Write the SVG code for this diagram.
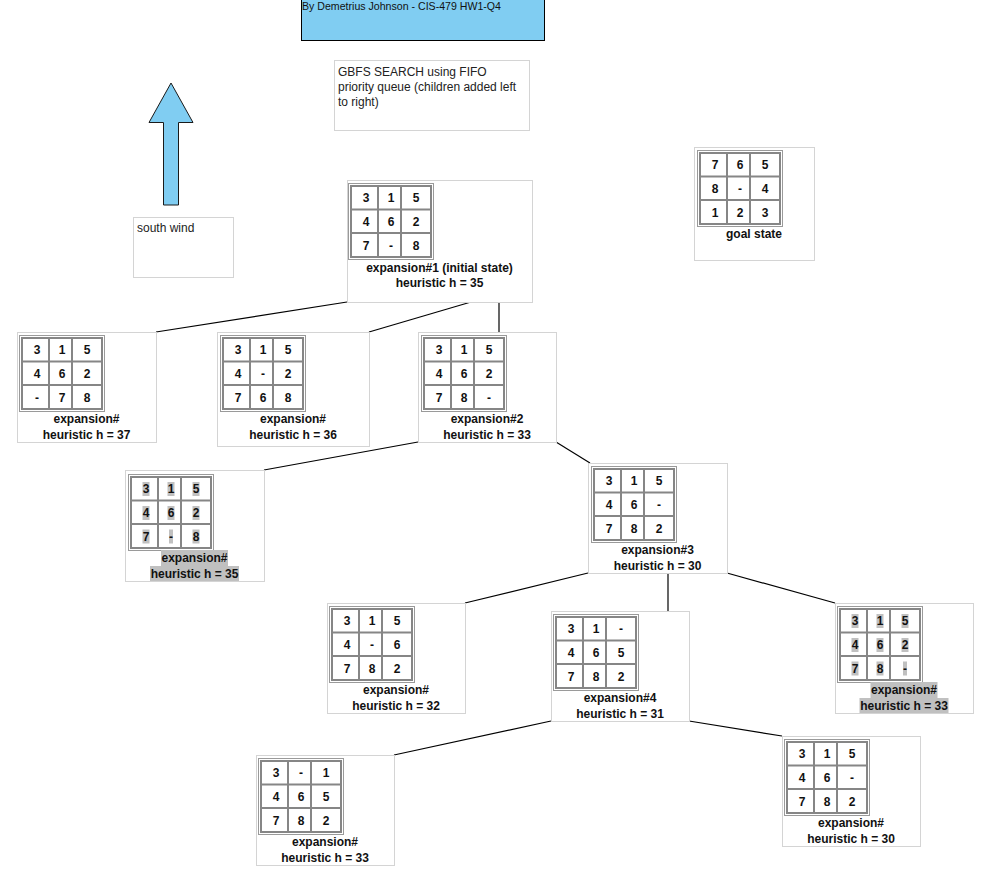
<svg xmlns="http://www.w3.org/2000/svg" xmlns:xlink="http://www.w3.org/1999/xlink" width="1004" height="870" viewBox="0 0 1004 870">
<style>
.box{fill:#fff;stroke:#d4d4d4;stroke-width:1}
.d{font-family:"Liberation Sans",Arial,sans-serif;font-size:12px;font-weight:bold;fill:#111;text-anchor:middle}
.lb{font-family:"Liberation Sans",Arial,sans-serif;font-size:12px;font-weight:bold;fill:#111;text-anchor:middle}
.t{font-family:"Liberation Sans",Arial,sans-serif;font-size:12px;fill:#222}
.hl{fill:#c0c0c0}
.conn line{stroke:#000;stroke-width:1.2}
</style>
<defs>
<g id="grid">
<rect x="0.5" y="0.5" width="85" height="76" fill="#fff" stroke="#9a9a9a" stroke-width="1"/>
<rect x="3" y="3" width="80" height="71" fill="none" stroke="#868686" stroke-width="2"/>
<line x1="30" y1="3" x2="30" y2="74" stroke="#868686" stroke-width="2"/>
<line x1="53" y1="3" x2="53" y2="74" stroke="#868686" stroke-width="2"/>
<line x1="3" y1="26.5" x2="83" y2="26.5" stroke="#868686" stroke-width="2"/>
<line x1="3" y1="50" x2="83" y2="50" stroke="#868686" stroke-width="2"/>
</g>
</defs>
<rect width="1004" height="870" fill="#fff"/>

<g id="title">
<rect x="301.5" y="-5" width="243" height="45.5" fill="#80cdf2" stroke="#000" stroke-width="1"/>
<text x="302" y="10" font-family="Liberation Sans,Arial,sans-serif" font-size="10.6px" fill="#111">By Demetrius Johnson - CIS-479 HW1-Q4</text>
</g>

<g id="note">
<rect x="334.5" y="60.5" width="195" height="70" fill="#fff" stroke="#d4d4d4"/>
<text class="t" x="338" y="76">GBFS SEARCH using FIFO</text>
<text class="t" x="338" y="91">priority queue (children added left</text>
<text class="t" x="338" y="106">to right)</text>
</g>

<g id="wind-arrow">
<polygon points="171,83 193,122.5 178.5,122.5 178.5,205 163.5,205 163.5,122.5 149,122.5" fill="#80cdf2" stroke="#1a1a1a" stroke-width="1"/>
</g>

<g id="south-wind">
<rect x="133.5" y="217.5" width="100" height="60" fill="#fff" stroke="#d4d4d4"/>
<text class="t" x="137" y="232">south wind</text>
</g>

<g class="conn" id="connectors">
<line x1="347" y1="302" x2="156" y2="332"/>
<line x1="471" y1="302" x2="369" y2="332"/>
<line x1="499" y1="302" x2="499" y2="332"/>
<line x1="418" y1="442" x2="264" y2="470"/>
<line x1="556" y1="442" x2="590" y2="463"/>
<line x1="588" y1="573" x2="465" y2="603"/>
<line x1="668" y1="573" x2="668" y2="611"/>
<line x1="727" y1="573" x2="835" y2="603"/>
<line x1="551" y1="721" x2="394" y2="755"/>
<line x1="689" y1="721" x2="782" y2="736"/>
</g>

<g id="goal">
<rect class="box" x="694.5" y="147.5" width="120" height="113"/>
<g transform="translate(697,150)">
<use xlink:href="#grid"/>
<text class="d" x="18" y="19">7</text><text class="d" x="43" y="19">6</text><text class="d" x="68" y="19">5</text>
<text class="d" x="18" y="43">8</text><text class="d" x="43" y="43">-</text><text class="d" x="68" y="43">4</text>
<text class="d" x="18" y="66.5">1</text><text class="d" x="43" y="66.5">2</text><text class="d" x="68" y="66.5">3</text>
<text class="lb" x="57" y="88">goal state</text>
</g>
</g>

<g id="root">
<rect class="box" x="347.5" y="180.5" width="185" height="122"/>
<g transform="translate(348,183)">
<use xlink:href="#grid"/>
<text class="d" x="18" y="19">3</text><text class="d" x="43" y="19">1</text><text class="d" x="68" y="19">5</text>
<text class="d" x="18" y="43">4</text><text class="d" x="43" y="43">6</text><text class="d" x="68" y="43">2</text>
<text class="d" x="18" y="66.5">7</text><text class="d" x="43" y="66.5">-</text><text class="d" x="68" y="66.5">8</text>
<text class="lb" x="91.5" y="89">expansion#1 (initial state)</text>
<text class="lb" x="91.5" y="104">heuristic h = 35</text>
</g>
</g>

<g id="n1">
<rect class="box" x="17.5" y="332.5" width="139" height="110"/>
<g transform="translate(19,335)">
<use xlink:href="#grid"/>
<text class="d" x="18" y="19">3</text><text class="d" x="43" y="19">1</text><text class="d" x="68" y="19">5</text>
<text class="d" x="18" y="43">4</text><text class="d" x="43" y="43">6</text><text class="d" x="68" y="43">2</text>
<text class="d" x="18" y="66.5">-</text><text class="d" x="43" y="66.5">7</text><text class="d" x="68" y="66.5">8</text>
<text class="lb" x="67.5" y="88">expansion#</text>
<text class="lb" x="67.5" y="104">heuristic h = 37</text>
</g>
</g>

<g id="n2">
<rect class="box" x="217.5" y="332.5" width="152" height="114"/>
<g transform="translate(220,335)">
<use xlink:href="#grid"/>
<text class="d" x="18" y="19">3</text><text class="d" x="43" y="19">1</text><text class="d" x="68" y="19">5</text>
<text class="d" x="18" y="43">4</text><text class="d" x="43" y="43">-</text><text class="d" x="68" y="43">2</text>
<text class="d" x="18" y="66.5">7</text><text class="d" x="43" y="66.5">6</text><text class="d" x="68" y="66.5">8</text>
<text class="lb" x="73" y="88">expansion#</text>
<text class="lb" x="73" y="104">heuristic h = 36</text>
</g>
</g>

<g id="n3">
<rect class="box" x="418.5" y="332.5" width="138" height="110"/>
<g transform="translate(421,335)">
<use xlink:href="#grid"/>
<text class="d" x="18" y="19">3</text><text class="d" x="43" y="19">1</text><text class="d" x="68" y="19">5</text>
<text class="d" x="18" y="43">4</text><text class="d" x="43" y="43">6</text><text class="d" x="68" y="43">2</text>
<text class="d" x="18" y="66.5">7</text><text class="d" x="43" y="66.5">8</text><text class="d" x="68" y="66.5">-</text>
<text class="lb" x="66" y="88">expansion#2</text>
<text class="lb" x="66" y="104">heuristic h = 33</text>
</g>
</g>

<g id="n4">
<rect class="box" x="125.5" y="470.5" width="139" height="111"/>
<g transform="translate(128,474)">
<use xlink:href="#grid"/>
<rect class="hl" x="14.5" y="8" width="7" height="14"/><rect class="hl" x="39.5" y="8" width="7" height="14"/><rect class="hl" x="64.5" y="8" width="7" height="14"/>
<rect class="hl" x="14.5" y="32" width="7" height="14"/><rect class="hl" x="39.5" y="32" width="7" height="14"/><rect class="hl" x="64.5" y="32" width="7" height="14"/>
<rect class="hl" x="14.5" y="55.5" width="7" height="14"/><rect class="hl" x="41" y="55.5" width="4" height="14"/><rect class="hl" x="64.5" y="55.5" width="7" height="14"/>
<text class="d" x="18" y="19">3</text><text class="d" x="43" y="19">1</text><text class="d" x="68" y="19">5</text>
<text class="d" x="18" y="43">4</text><text class="d" x="43" y="43">6</text><text class="d" x="68" y="43">2</text>
<text class="d" x="18" y="66.5">7</text><text class="d" x="43" y="66.5">-</text><text class="d" x="68" y="66.5">8</text>
<rect class="hl" x="33" y="76" width="67" height="16"/>
<rect class="hl" x="22" y="92" width="89" height="15"/>
<text class="lb" x="66.5" y="88">expansion#</text>
<text class="lb" x="66.5" y="104">heuristic h = 35</text>
</g>
</g>

<g id="n5">
<rect class="box" x="588.5" y="463.5" width="139" height="110"/>
<g transform="translate(591,466)">
<use xlink:href="#grid"/>
<text class="d" x="18" y="19">3</text><text class="d" x="43" y="19">1</text><text class="d" x="68" y="19">5</text>
<text class="d" x="18" y="43">4</text><text class="d" x="43" y="43">6</text><text class="d" x="68" y="43">-</text>
<text class="d" x="18" y="66.5">7</text><text class="d" x="43" y="66.5">8</text><text class="d" x="68" y="66.5">2</text>
<text class="lb" x="66.5" y="88">expansion#3</text>
<text class="lb" x="66.5" y="104">heuristic h = 30</text>
</g>
</g>

<g id="n6">
<rect class="box" x="327.5" y="603.5" width="138" height="110"/>
<g transform="translate(329,606)">
<use xlink:href="#grid"/>
<text class="d" x="18" y="19">3</text><text class="d" x="43" y="19">1</text><text class="d" x="68" y="19">5</text>
<text class="d" x="18" y="43">4</text><text class="d" x="43" y="43">-</text><text class="d" x="68" y="43">6</text>
<text class="d" x="18" y="66.5">7</text><text class="d" x="43" y="66.5">8</text><text class="d" x="68" y="66.5">2</text>
<text class="lb" x="67" y="88">expansion#</text>
<text class="lb" x="67" y="104">heuristic h = 32</text>
</g>
</g>

<g id="n7">
<rect class="box" x="551.5" y="611.5" width="138" height="110"/>
<g transform="translate(553,614)">
<use xlink:href="#grid"/>
<text class="d" x="18" y="19">3</text><text class="d" x="43" y="19">1</text><text class="d" x="68" y="19">-</text>
<text class="d" x="18" y="43">4</text><text class="d" x="43" y="43">6</text><text class="d" x="68" y="43">5</text>
<text class="d" x="18" y="66.5">7</text><text class="d" x="43" y="66.5">8</text><text class="d" x="68" y="66.5">2</text>
<text class="lb" x="67" y="88">expansion#4</text>
<text class="lb" x="67" y="104">heuristic h = 31</text>
</g>
</g>

<g id="n8">
<rect class="box" x="835.5" y="603.5" width="138" height="110"/>
<g transform="translate(837,606)">
<use xlink:href="#grid"/>
<rect class="hl" x="14.5" y="8" width="7" height="14"/><rect class="hl" x="39.5" y="8" width="7" height="14"/><rect class="hl" x="64.5" y="8" width="7" height="14"/>
<rect class="hl" x="14.5" y="32" width="7" height="14"/><rect class="hl" x="39.5" y="32" width="7" height="14"/><rect class="hl" x="64.5" y="32" width="7" height="14"/>
<rect class="hl" x="14.5" y="55.5" width="7" height="14"/><rect class="hl" x="39.5" y="55.5" width="7" height="14"/><rect class="hl" x="66" y="55.5" width="4" height="14"/>
<text class="d" x="18" y="19">3</text><text class="d" x="43" y="19">1</text><text class="d" x="68" y="19">5</text>
<text class="d" x="18" y="43">4</text><text class="d" x="43" y="43">6</text><text class="d" x="68" y="43">2</text>
<text class="d" x="18" y="66.5">7</text><text class="d" x="43" y="66.5">8</text><text class="d" x="68" y="66.5">-</text>
<rect class="hl" x="33.5" y="76" width="67" height="16"/>
<rect class="hl" x="22.5" y="92" width="89" height="15"/>
<text class="lb" x="67" y="88">expansion#</text>
<text class="lb" x="67" y="104">heuristic h = 33</text>
</g>
</g>

<g id="n9">
<rect class="box" x="256.5" y="755.5" width="138" height="110"/>
<g transform="translate(258,758)">
<use xlink:href="#grid"/>
<text class="d" x="18" y="19">3</text><text class="d" x="43" y="19">-</text><text class="d" x="68" y="19">1</text>
<text class="d" x="18" y="43">4</text><text class="d" x="43" y="43">6</text><text class="d" x="68" y="43">5</text>
<text class="d" x="18" y="66.5">7</text><text class="d" x="43" y="66.5">8</text><text class="d" x="68" y="66.5">2</text>
<text class="lb" x="67" y="88">expansion#</text>
<text class="lb" x="67" y="104">heuristic h = 33</text>
</g>
</g>

<g id="n10">
<rect class="box" x="782.5" y="736.5" width="138" height="110"/>
<g transform="translate(784,739)">
<use xlink:href="#grid"/>
<text class="d" x="18" y="19">3</text><text class="d" x="43" y="19">1</text><text class="d" x="68" y="19">5</text>
<text class="d" x="18" y="43">4</text><text class="d" x="43" y="43">6</text><text class="d" x="68" y="43">-</text>
<text class="d" x="18" y="66.5">7</text><text class="d" x="43" y="66.5">8</text><text class="d" x="68" y="66.5">2</text>
<text class="lb" x="67" y="88">expansion#</text>
<text class="lb" x="67" y="104">heuristic h = 30</text>
</g>
</g>
</svg>
